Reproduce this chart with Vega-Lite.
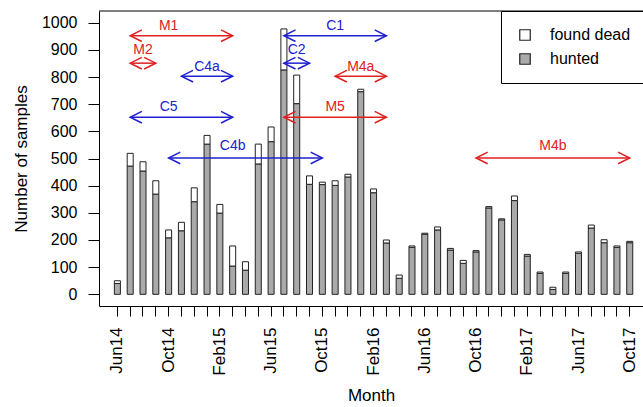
{
  "$schema": "https://vega.github.io/schema/vega-lite/v6.json",
  "autosize": {"type": "none"},
  "width": 544,
  "height": 295,
  "padding": {"left": 99, "top": 11, "right": 0, "bottom": 101},
  "config": {
    "font": "Liberation Sans",
    "view": {"stroke": null},
    "axis": {"domainColor": "black", "tickColor": "black", "labelColor": "black", "titleColor": "black", "titleFontWeight": "normal", "grid": false, "domainWidth": 1, "tickWidth": 1},
    "axisY": {"tickCount": 11, "format": "d", "labelOverlap": false, "labelFlush": false, "labelFontSize": 16, "labelPadding": 11, "tickSize": 11, "titleFontSize": 17, "titlePadding": 11}
  },
  "datasets": {
    "samples": [
      {"month": "Jun14", "type": "hunted", "n": 40}, {"month": "Jun14", "type": "found dead", "n": 10},
      {"month": "Jul14", "type": "hunted", "n": 472}, {"month": "Jul14", "type": "found dead", "n": 47},
      {"month": "Aug14", "type": "hunted", "n": 454}, {"month": "Aug14", "type": "found dead", "n": 34},
      {"month": "Sep14", "type": "hunted", "n": 369}, {"month": "Sep14", "type": "found dead", "n": 49},
      {"month": "Oct14", "type": "hunted", "n": 208}, {"month": "Oct14", "type": "found dead", "n": 29},
      {"month": "Nov14", "type": "hunted", "n": 234}, {"month": "Nov14", "type": "found dead", "n": 31},
      {"month": "Dec14", "type": "hunted", "n": 341}, {"month": "Dec14", "type": "found dead", "n": 51},
      {"month": "Jan15", "type": "hunted", "n": 553}, {"month": "Jan15", "type": "found dead", "n": 32},
      {"month": "Feb15", "type": "hunted", "n": 299}, {"month": "Feb15", "type": "found dead", "n": 32},
      {"month": "Mar15", "type": "hunted", "n": 104}, {"month": "Mar15", "type": "found dead", "n": 74},
      {"month": "Apr15", "type": "hunted", "n": 89}, {"month": "Apr15", "type": "found dead", "n": 31},
      {"month": "May15", "type": "hunted", "n": 480}, {"month": "May15", "type": "found dead", "n": 73},
      {"month": "Jun15", "type": "hunted", "n": 562}, {"month": "Jun15", "type": "found dead", "n": 54},
      {"month": "Jul15", "type": "hunted", "n": 826}, {"month": "Jul15", "type": "found dead", "n": 151},
      {"month": "Aug15", "type": "hunted", "n": 702}, {"month": "Aug15", "type": "found dead", "n": 105},
      {"month": "Sep15", "type": "hunted", "n": 405}, {"month": "Sep15", "type": "found dead", "n": 31},
      {"month": "Oct15", "type": "hunted", "n": 404}, {"month": "Oct15", "type": "found dead", "n": 9},
      {"month": "Nov15", "type": "hunted", "n": 401}, {"month": "Nov15", "type": "found dead", "n": 17},
      {"month": "Dec15", "type": "hunted", "n": 432}, {"month": "Dec15", "type": "found dead", "n": 10},
      {"month": "Jan16", "type": "hunted", "n": 746}, {"month": "Jan16", "type": "found dead", "n": 9},
      {"month": "Feb16", "type": "hunted", "n": 374}, {"month": "Feb16", "type": "found dead", "n": 14},
      {"month": "Mar16", "type": "hunted", "n": 189}, {"month": "Mar16", "type": "found dead", "n": 11},
      {"month": "Apr16", "type": "hunted", "n": 59}, {"month": "Apr16", "type": "found dead", "n": 12},
      {"month": "May16", "type": "hunted", "n": 173}, {"month": "May16", "type": "found dead", "n": 5},
      {"month": "Jun16", "type": "hunted", "n": 221}, {"month": "Jun16", "type": "found dead", "n": 4},
      {"month": "Jul16", "type": "hunted", "n": 237}, {"month": "Jul16", "type": "found dead", "n": 11},
      {"month": "Aug16", "type": "hunted", "n": 163}, {"month": "Aug16", "type": "found dead", "n": 6},
      {"month": "Sep16", "type": "hunted", "n": 114}, {"month": "Sep16", "type": "found dead", "n": 11},
      {"month": "Oct16", "type": "hunted", "n": 156}, {"month": "Oct16", "type": "found dead", "n": 5},
      {"month": "Nov16", "type": "hunted", "n": 318}, {"month": "Nov16", "type": "found dead", "n": 5},
      {"month": "Dec16", "type": "hunted", "n": 274}, {"month": "Dec16", "type": "found dead", "n": 4},
      {"month": "Jan17", "type": "hunted", "n": 345}, {"month": "Jan17", "type": "found dead", "n": 17},
      {"month": "Feb17", "type": "hunted", "n": 141}, {"month": "Feb17", "type": "found dead", "n": 6},
      {"month": "Mar17", "type": "hunted", "n": 77}, {"month": "Mar17", "type": "found dead", "n": 5},
      {"month": "Apr17", "type": "hunted", "n": 18}, {"month": "Apr17", "type": "found dead", "n": 8},
      {"month": "May17", "type": "hunted", "n": 77}, {"month": "May17", "type": "found dead", "n": 5},
      {"month": "Jun17", "type": "hunted", "n": 151}, {"month": "Jun17", "type": "found dead", "n": 5},
      {"month": "Jul17", "type": "hunted", "n": 244}, {"month": "Jul17", "type": "found dead", "n": 11},
      {"month": "Aug17", "type": "hunted", "n": 190}, {"month": "Aug17", "type": "found dead", "n": 11},
      {"month": "Sep17", "type": "hunted", "n": 173}, {"month": "Sep17", "type": "found dead", "n": 5},
      {"month": "Oct17", "type": "hunted", "n": 190}, {"month": "Oct17", "type": "found dead", "n": 5}
    ],
    "arrows": [
      {"name": "M1", "group": "M", "from": "Jul14", "to": "Mar15", "level": 952, "labelAt": "Oct14", "labelLevel": 989},
      {"name": "M2", "group": "M", "from": "Jul14", "to": "Sep14", "level": 851, "labelAt": "Aug14", "labelLevel": 900},
      {"name": "C4a", "group": "C", "from": "Nov14", "to": "Mar15", "level": 803, "labelAt": "Jan15", "labelLevel": 838},
      {"name": "C5", "group": "C", "from": "Jul14", "to": "Mar15", "level": 652, "labelAt": "Oct14", "labelLevel": 688},
      {"name": "C4b", "group": "C", "from": "Oct14", "to": "Oct15", "level": 502, "labelAt": "Mar15", "labelLevel": 547},
      {"name": "C1", "group": "C", "from": "Jul15", "to": "Mar16", "level": 952, "labelAt": "Nov15", "labelLevel": 989},
      {"name": "C2", "group": "C", "from": "Jul15", "to": "Sep15", "level": 851, "labelAt": "Aug15", "labelLevel": 900},
      {"name": "M4a", "group": "M", "from": "Nov15", "to": "Mar16", "level": 803, "labelAt": "Jan16", "labelLevel": 838},
      {"name": "M5", "group": "M", "from": "Jul15", "to": "Mar16", "level": 652, "labelAt": "Nov15", "labelLevel": 688},
      {"name": "M4b", "group": "M", "from": "Oct16", "to": "Oct17", "level": 502, "labelAt": "Apr17", "labelLevel": 547}
    ]
  },
  "encoding": {
    "x": {
      "type": "ordinal",
      "scale": {
        "domain": ["Jun14","Jul14","Aug14","Sep14","Oct14","Nov14","Dec14","Jan15","Feb15","Mar15","Apr15","May15","Jun15","Jul15","Aug15","Sep15","Oct15","Nov15","Dec15","Jan16","Feb16","Mar16","Apr16","May16","Jun16","Jul16","Aug16","Sep16","Oct16","Nov16","Dec16","Jan17","Feb17","Mar17","Apr17","May17","Jun17","Jul17","Aug17","Sep17","Oct17"],
        "paddingInner": 0.53,
        "paddingOuter": 1.12,
        "align": 0.6
      }
    },
    "y": {
      "type": "quantitative",
      "scale": {"domain": [-43, 1043], "nice": false, "zero": false}
    }
  },
  "layer": [
    {
      "data": {"name": "samples"},
      "mark": {"type": "bar", "stroke": "#222222", "strokeWidth": 1},
      "encoding": {
        "x": {
          "field": "month", "type": "ordinal",
          "axis": {
            "title": "Month", "titleFontSize": 17, "titlePadding": 12,
            "labelAngle": 270, "labelAlign": "right", "labelBaseline": "middle",
            "labelFontSize": 17, "labelPadding": 11, "tickSize": 10, "labelOverlap": false,
            "labelExpr": "test(/^(Jun|Oct|Feb)/, datum.label) ? datum.label : ''"
          }
        },
        "y": {
          "field": "n", "type": "quantitative", "stack": "zero",
          "axis": {"title": "Number of samples"}
        },
        "fill": {
          "field": "type", "type": "nominal",
          "scale": {"domain": ["found dead", "hunted"], "range": ["#ffffff", "#aaaaaa"]},
          "legend": {
            "title": null, "orient": "none", "legendX": 402, "legendY": 0,
            "strokeColor": "black", "fillColor": "white", "padding": 16,
            "symbolType": "square", "symbolSize": 110, "symbolStrokeColor": "#222222", "symbolStrokeWidth": 1.2,
            "labelFontSize": 16, "labelOffset": 17, "rowPadding": 8, "labelColor": "black"
          }
        },
        "order": {"field": "type", "sort": "descending"}
      }
    },
    {
      "data": {"values": [{"edge": "top"}]},
      "mark": {"type": "rule", "color": "black", "strokeWidth": 1},
      "encoding": {"y": {"datum": 1043}}
    },
    {
      "data": {"name": "arrows"},
      "mark": {"type": "rule", "strokeWidth": 1.5},
      "encoding": {
        "x": {"field": "from", "type": "ordinal"},
        "x2": {"field": "to"},
        "y": {"field": "level", "type": "quantitative"},
        "color": {"field": "group", "type": "nominal", "scale": {"domain": ["M", "C"], "range": ["#e02020", "#2020d0"]}, "legend": null}
      }
    },
    {
      "data": {"name": "arrows"},
      "mark": {"type": "point", "shape": "M4.4,-2.2L0,0L4.4,2.2", "size": 28, "filled": false, "strokeWidth": 1.5, "opacity": 1},
      "encoding": {
        "x": {"field": "from", "type": "ordinal"},
        "y": {"field": "level", "type": "quantitative"},
        "color": {"field": "group", "type": "nominal", "legend": null}
      }
    },
    {
      "data": {"name": "arrows"},
      "mark": {"type": "point", "shape": "M-4.4,-2.2L0,0L-4.4,2.2", "size": 28, "filled": false, "strokeWidth": 1.5, "opacity": 1},
      "encoding": {
        "x": {"field": "to", "type": "ordinal"},
        "y": {"field": "level", "type": "quantitative"},
        "color": {"field": "group", "type": "nominal", "legend": null}
      }
    },
    {
      "data": {"name": "arrows"},
      "mark": {"type": "text", "fontSize": 14, "align": "center", "baseline": "middle"},
      "encoding": {
        "x": {"field": "labelAt", "type": "ordinal"},
        "y": {"field": "labelLevel", "type": "quantitative"},
        "text": {"field": "name"},
        "color": {"field": "group", "type": "nominal", "legend": null}
      }
    }
  ]
}
